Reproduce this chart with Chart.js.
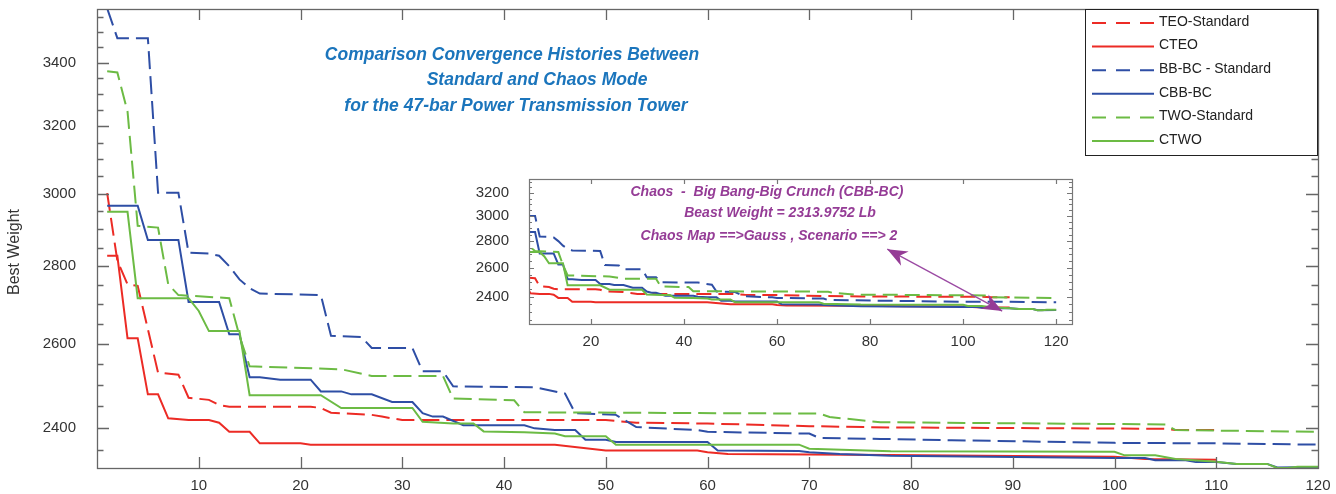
<!DOCTYPE html>
<html>
<head>
<meta charset="utf-8">
<script src="https://cdn.jsdelivr.net/npm/chart.js@4.4.1/dist/chart.umd.min.js"></script>
<style>
  html, body { margin: 0; padding: 0; background: #fff; }
  #wrap { position: relative; width: 1336px; height: 494px; }
  #main { position: absolute; left: 0; top: 0; }
  #inset { position: absolute; left: 460px; top: 170px; }
</style>
</head>
<body>
<div id="wrap">
  <canvas id="main" width="1336" height="494"></canvas>
  <canvas id="inset" width="620" height="180"></canvas>
</div>
<script>
// iteration / best weight pairs
const teoStdIter = [1, 2, 3, 4, 6, 8, 9, 11, 12, 13, 21, 22, 23, 27, 28, 30, 50, 53, 60, 70, 78, 105, 106, 110];
const teoStdVal = [3002, 2815, 2752, 2748, 2530, 2525, 2470, 2465, 2453, 2449, 2449, 2446, 2435, 2430, 2426, 2418, 2418, 2412, 2410, 2404, 2401, 2398, 2395, 2395];

const cteoIter = [1, 2, 3, 4, 5, 6, 7, 9, 11, 12, 13, 15, 16, 20, 21, 45, 50, 59, 60, 62, 78, 87, 100, 103, 110];
const cteoVal = [2828, 2828, 2614, 2614, 2478, 2478, 2422, 2418, 2418, 2412, 2391, 2391, 2365, 2365, 2362, 2362, 2349, 2349, 2345, 2341, 2339, 2337, 2335, 2330, 2328];

const bbbcStdIter = [1, 2, 5, 6, 8, 9, 11, 12, 13, 14, 15, 16, 22, 23, 26, 27, 31, 32, 34, 35, 43, 46, 47, 51, 53, 59, 60, 70, 71, 77, 84, 100, 110, 120];
const bbbcStdVal = [3580, 3480, 3480, 3003, 3003, 2836, 2834, 2828, 2800, 2765, 2742, 2728, 2724, 2620, 2617, 2590, 2590, 2533, 2533, 2497, 2495, 2480, 2434, 2430, 2402, 2395, 2391, 2387, 2377, 2375, 2372, 2366, 2365, 2362];

const cbbbcIter = [1, 4, 5, 8, 9, 12, 13, 14, 15, 16, 18, 21, 22, 24, 25, 27, 29, 31, 32, 33, 34, 36, 42, 43, 45, 47, 48, 50, 51, 60, 61, 69, 70, 73, 78, 100, 103, 104, 107, 108, 110, 112, 115, 116, 120];
const cbbbcVal = [2966, 2966, 2871, 2871, 2706, 2706, 2624, 2624, 2519, 2519, 2513, 2513, 2485, 2485, 2478, 2478, 2460, 2460, 2434, 2426, 2426, 2406, 2406, 2399, 2395, 2395, 2373, 2373, 2368, 2368, 2349, 2348, 2345, 2341, 2337, 2332, 2332, 2327, 2327, 2323, 2323, 2319, 2319, 2311, 2312];

const twoStdIter = [1, 2, 3, 4, 6, 7, 8, 13, 14, 15, 24, 27, 34, 35, 41, 42, 71, 72, 77, 105, 106, 120];
const twoStdVal = [3372, 3368, 3245, 2910, 2905, 2752, 2724, 2716, 2620, 2545, 2538, 2522, 2522, 2468, 2464, 2436, 2433, 2425, 2413, 2408, 2395, 2391];

const ctwoIter = [1, 3, 4, 9, 10, 11, 14, 15, 22, 24, 31, 32, 35, 37, 38, 42, 45, 46, 50, 51, 69, 70, 78, 100, 101, 104, 106, 110, 112, 115, 116, 117, 118, 120];
const ctwoVal = [2949, 2949, 2716, 2716, 2683, 2632, 2632, 2476, 2476, 2446, 2446, 2414, 2410, 2410, 2392, 2390, 2387, 2381, 2381, 2362, 2362, 2353, 2347, 2346, 2338, 2338, 2330, 2324, 2319, 2319, 2310, 2310, 2313, 2313];

const seriesNames = ["TEO-Standard", "CTEO", "BB-BC - Standard", "CBB-BC", "TWO-Standard", "CTWO"];

const xTickLabels = [10, 20, 30, 40, 50, 60, 70, 80, 90, 100, 110, 120];
const yTickLabels = [2400, 2600, 2800, 3000, 3200, 3400];
const insetXTickLabels = [20, 40, 60, 80, 100, 120];
const insetYTickLabels = [2400, 2600, 2800, 3000, 3200];

const titleLines = [
  "Comparison Convergence Histories Between",
  "Standard and Chaos Mode",
  "for the 47-bar Power Transmission Tower"
];
const noteLines = [
  "Chaos  -  Big Bang-Big Crunch (CBB-BC)",
  "Beast Weight = 2313.9752 Lb",
  "Chaos Map ==>Gauss , Scenario ==> 2"
];

const FONT = "'Liberation Sans', Arial, sans-serif";
const RED = "#ec2b25";
const BLUE = "#2e4ea5";
const GREEN = "#6cbb44";

function pts(iters, vals) {
  return iters.map((x, i) => ({ x: x, y: vals[i] }));
}

function makeDatasets(dash) {
  const src = [
    [teoStdIter, teoStdVal, RED, true],
    [cteoIter, cteoVal, RED, false],
    [bbbcStdIter, bbbcStdVal, BLUE, true],
    [cbbbcIter, cbbbcVal, BLUE, false],
    [twoStdIter, twoStdVal, GREEN, true],
    [ctwoIter, ctwoVal, GREEN, false]
  ];
  return src.map((s, i) => ({
    label: seriesNames[i],
    data: pts(s[0], s[1]),
    borderColor: s[2],
    backgroundColor: s[2],
    borderWidth: 2,
    borderDash: s[3] ? dash : [],
    pointRadius: 0,
    tension: 0,
    fill: false,
    order: src.length - 1 - i
  }));
}

function minorTicks(min, max, step) {
  const out = [];
  for (let v = Math.ceil(min / step) * step; v <= max; v += step) out.push({ value: v });
  return out;
}

// fixed axis boxes, no label overhang padding
function fixX(h) {
  return s => { s.height = h; s.paddingLeft = 0; s.paddingRight = 0; };
}
function fixY(w) {
  return s => { s.width = w; s.paddingTop = 0; s.paddingBottom = 0; };
}

// inward tick marks on all four sides + frame
const boxTicks = {
  id: "boxTicks",
  afterDraw(chart, args, o) {
    const { ctx, chartArea: a } = chart;
    const x = chart.scales.x, y = chart.scales.y;
    ctx.save();
    ctx.strokeStyle = o.color;
    ctx.lineWidth = o.width;
    ctx.beginPath();
    x.ticks.forEach(t => {
      const px = Math.round(x.getPixelForValue(t.value)) + 0.5;
      if (px <= a.left + 2 || px >= a.right - 2) return;
      ctx.moveTo(px, a.bottom); ctx.lineTo(px, a.bottom - o.xLen);
      ctx.moveTo(px, a.top); ctx.lineTo(px, a.top + o.xLen);
    });
    y.ticks.forEach(t => {
      const py = Math.round(y.getPixelForValue(t.value)) + 0.5;
      if (py <= a.top + 2 || py >= a.bottom - 2) return;
      const len = t.value % o.majorStep === 0 ? o.yMajor : o.yMinor;
      ctx.moveTo(a.left, py); ctx.lineTo(a.left + len, py);
      ctx.moveTo(a.right, py); ctx.lineTo(a.right - len, py);
    });
    ctx.stroke();
    ctx.strokeRect(Math.round(a.left) + 0.5, Math.round(a.top) + 0.5,
      Math.round(a.right - a.left), Math.round(a.bottom - a.top));
    ctx.restore();
  }
};

const mainDecor = {
  id: "mainDecor",
  afterDraw(chart) {
    const ctx = chart.ctx;
    ctx.save();
    // title
    ctx.fillStyle = "#1b75bc";
    ctx.font = "italic bold 17.5px " + FONT;
    ctx.textAlign = "center";
    ctx.textBaseline = "alphabetic";
    ctx.fillText(titleLines[0], 512, 60);
    ctx.fillText(titleLines[1], 537, 85);
    ctx.fillText(titleLines[2], 516, 111);

    // y axis title
    ctx.save();
    ctx.translate(15, 252);
    ctx.rotate(-Math.PI / 2);
    ctx.fillStyle = "#333";
    ctx.font = "16px " + FONT;
    ctx.textBaseline = "middle";
    ctx.fillText("Best Weight", 0, 0);
    ctx.restore();

    // legend box
    const L = 1085, T = 9, W = 232, H = 146;
    ctx.fillStyle = "#fff";
    ctx.fillRect(L, T, W, H);
    ctx.strokeStyle = "#222";
    ctx.lineWidth = 1;
    ctx.strokeRect(L + 0.5, T + 0.5, W, H);
    ctx.font = "14px " + FONT;
    ctx.textAlign = "left";
    ctx.textBaseline = "middle";
    chart.data.datasets.forEach((ds, i) => {
      const yy = T + 14 + i * 23.6;
      ctx.strokeStyle = ds.borderColor;
      ctx.lineWidth = 2;
      ctx.setLineDash(ds.borderDash.length ? [14, 10] : []);
      ctx.beginPath();
      ctx.moveTo(L + 7, yy);
      ctx.lineTo(L + 69, yy);
      ctx.stroke();
      ctx.setLineDash([]);
      ctx.fillStyle = "#222";
      ctx.fillText(ds.label, L + 74, yy - 1);
    });
    ctx.restore();
  }
};

const insetDecor = {
  id: "insetDecor",
  afterDraw(chart) {
    const ctx = chart.ctx;
    const x = chart.scales.x, y = chart.scales.y;
    ctx.save();
    ctx.fillStyle = "#953c96";
    ctx.font = "italic bold 14px " + FONT;
    ctx.textAlign = "center";
    ctx.fillText(noteLines[0], 307, 26);
    ctx.fillText(noteLines[1], 320, 47);
    ctx.fillText(noteLines[2], 309, 70);

    // double-headed arrow, anchored in data space
    const x1 = x.getPixelForValue(83.7), y1 = y.getPixelForValue(2738);
    const x2 = x.getPixelForValue(108.4), y2 = y.getPixelForValue(2305);
    const ang = Math.atan2(y2 - y1, x2 - x1);
    ctx.strokeStyle = "#9b4aa3";
    ctx.lineWidth = 1.3;
    ctx.beginPath();
    ctx.moveTo(x1, y1);
    ctx.lineTo(x2, y2);
    ctx.stroke();
    function head(px, py, a) {
      ctx.save();
      ctx.translate(px, py);
      ctx.rotate(a);
      ctx.beginPath();
      ctx.moveTo(0, 0);
      ctx.lineTo(20, -8);
      ctx.lineTo(14, 0);
      ctx.lineTo(20, 8);
      ctx.closePath();
      ctx.fillStyle = "#953c96";
      ctx.fill();
      ctx.restore();
    }
    head(x1, y1, ang);
    head(x2, y2, ang + Math.PI);
    ctx.restore();
  }
};

const tickFont = { family: FONT, size: 15 };

new Chart(document.getElementById("main"), {
  type: "line",
  data: { datasets: makeDatasets([18, 7]) },
  plugins: [boxTicks, mainDecor],
  options: {
    responsive: false,
    animation: false,
    layout: { padding: { top: 9, right: 18, left: 0, bottom: 0 } },
    plugins: {
      legend: { display: false },
      tooltip: { enabled: false },
      boxTicks: { color: "#666", width: 1.3, xLen: 11, yMajor: 12, yMinor: 6.5, majorStep: 200 }
    },
    scales: {
      x: {
        type: "linear",
        min: 0,
        max: 120,
        afterFit: fixX(26),
        afterBuildTicks: s => { s.ticks = [0].concat(xTickLabels).map(v => ({ value: v })); },
        ticks: {
          callback: v => (xTickLabels.includes(v) ? String(v) : ""),
          padding: 9, color: "#333", font: tickFont,
          maxRotation: 0, autoSkip: false
        },
        grid: { display: false, drawTicks: false },
        border: { display: false }
      },
      y: {
        type: "logarithmic",
        min: 2310,
        max: 3578,
        afterFit: fixY(97),
        afterBuildTicks: s => { s.ticks = minorTicks(2310, 3578, 50); },
        ticks: {
          callback: v => (yTickLabels.includes(v) ? String(v) : ""),
          padding: 21, color: "#333", font: tickFont, autoSkip: false
        },
        grid: { display: false, drawTicks: false },
        border: { display: false }
      }
    }
  }
});

new Chart(document.getElementById("inset"), {
  type: "line",
  data: { datasets: makeDatasets([15, 7]) },
  plugins: [boxTicks, insetDecor],
  options: {
    responsive: false,
    animation: false,
    layout: { padding: { top: 9, right: 8, left: 0, bottom: 0 } },
    plugins: {
      legend: { display: false },
      tooltip: { enabled: false },
      boxTicks: { color: "#777", width: 1.2, xLen: 5, yMajor: 5, yMinor: 3, majorStep: 200 }
    },
    scales: {
      x: {
        type: "linear",
        min: 6.7,
        max: 123.4,
        afterFit: fixX(26),
        afterBuildTicks: s => { s.ticks = insetXTickLabels.map(v => ({ value: v })); },
        ticks: {
          callback: v => String(v),
          padding: 9, color: "#333", font: tickFont,
          maxRotation: 0, autoSkip: false
        },
        grid: { display: false, drawTicks: false },
        border: { display: false }
      },
      y: {
        type: "logarithmic",
        min: 2224,
        max: 3327,
        afterFit: fixY(69),
        afterBuildTicks: s => { s.ticks = minorTicks(2224, 3327, 50); },
        ticks: {
          callback: v => (insetYTickLabels.includes(v) ? String(v) : ""),
          padding: 20, color: "#333", font: tickFont, autoSkip: false
        },
        grid: { display: false, drawTicks: false },
        border: { display: false }
      }
    }
  }
});
</script>
</body>
</html>
